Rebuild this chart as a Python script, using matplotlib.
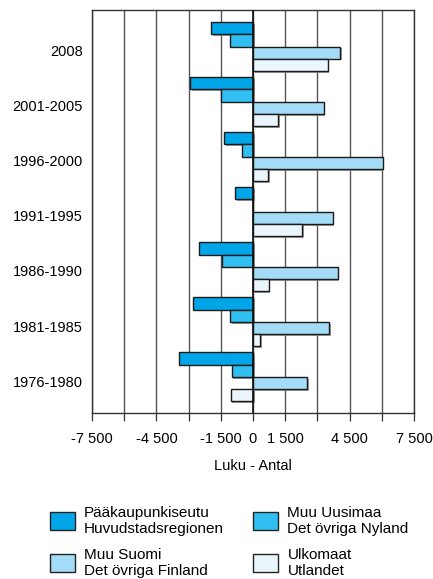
import numpy as np
import matplotlib
matplotlib.use("Agg")
import matplotlib.pyplot as plt
import matplotlib.patheffects as pe
import matplotlib.transforms as mtrans
from matplotlib.patches import Patch

plt.rcParams['font.family'] = ['Liberation Sans', 'DejaVu Sans']

# kategorier uppifrån och ned
kausi = ["2008", "2001-2005", "1996-2000", "1991-1995", "1986-1990", "1981-1985", "1976-1980"]

paakaupunkiseutu = [-1950, -2920, -1340, -820, -2530, -2780, -3430]
muu_uusimaa = [-1070, -1500, -530, 0, -1450, -1070, -1000]
muu_suomi = [4070, 3290, 6040, 3710, 3950, 3560, 2530]
ulkomaat = [3480, 1180, 700, 2280, 730, 340, -1040]

sarjat = [
    ("Pääkaupunkiseutu\nHuvudstadsregionen", paakaupunkiseutu, "#00a6e8"),
    ("Muu Uusimaa\nDet övriga Nyland", muu_uusimaa, "#30bff0"),
    ("Muu Suomi\nDet övriga Finland", muu_suomi, "#a4dbf6"),
    ("Ulkomaat\nUtlandet", ulkomaat, "#ebf6fc"),
]

tick_pos = np.arange(-7500, 7501, 1500)
tick_lab = ["-7 500", "", "-4 500", "", "-1 500", "0", "1 500", "", "4 500", "", "7 500"]

fig = plt.figure(figsize=(4.33, 5.79), dpi=100)
ax = fig.add_axes([0.2125, 0.2867, 0.7435, 0.696])

y = np.arange(len(kausi))
h = 0.223
varjo = [pe.SimplePatchShadow(offset=(1.2, -1.2), shadow_rgbFace="#888888", alpha=0.8), pe.Normal()]

for i, (nimi, arvot, vari) in enumerate(sarjat):
    pos = y - 1.5 * h + i * h
    bars = ax.barh(pos, arvot, height=h, color=vari, edgecolor="#1a1a1a", linewidth=1.0, label=nimi, zorder=3)
    for b in bars:
        b.set_path_effects(varjo)

ax.set_ylim(len(kausi) - 1 + 0.655, -0.663)
ax.set_xlim(-7500, 7500)
ax.set_yticks(y)
ax.set_yticklabels(kausi, fontsize=10.5)
ax.set_xticks(tick_pos)
ax.set_xticklabels(tick_lab, fontsize=10.5)
ax.tick_params(axis="y", length=0, pad=6.5)
ax.tick_params(axis="x", direction="out", length=6, width=0.9, color="#333333", pad=8)

# vuosietiketit hieman alaspäin
siirto = mtrans.ScaledTranslation(0, -3 / 72, fig.dpi_scale_trans)
for t in ax.get_yticklabels():
    t.set_transform(t.get_transform() + siirto)

for xv in tick_pos:
    ax.axvline(xv, color="#555555", linewidth=1.0, zorder=1)
ax.axvline(0, color="#111111", linewidth=1.2, zorder=4)

for s in ax.spines.values():
    s.set_color("#333333")
    s.set_linewidth(1.0)

ax.set_xlabel("Luku - Antal", fontsize=10.5, labelpad=9)

# legendan fylls kolumnvis
jarj = [0, 2, 1, 3]
kahvat = [Patch(facecolor=sarjat[k][2], edgecolor="#222222", linewidth=1.0) for k in jarj]
nimet = [sarjat[k][0] for k in jarj]
fig.legend(kahvat, nimet, ncol=2, loc="upper left",
           bbox_to_anchor=(0.09, 0.145), frameon=False, fontsize=11,
           handlelength=1.65, handleheight=1.4, handletextpad=0.6,
           columnspacing=1.9, labelspacing=0.76, borderpad=0.2)

fig.savefig("out.png", dpi=100)
